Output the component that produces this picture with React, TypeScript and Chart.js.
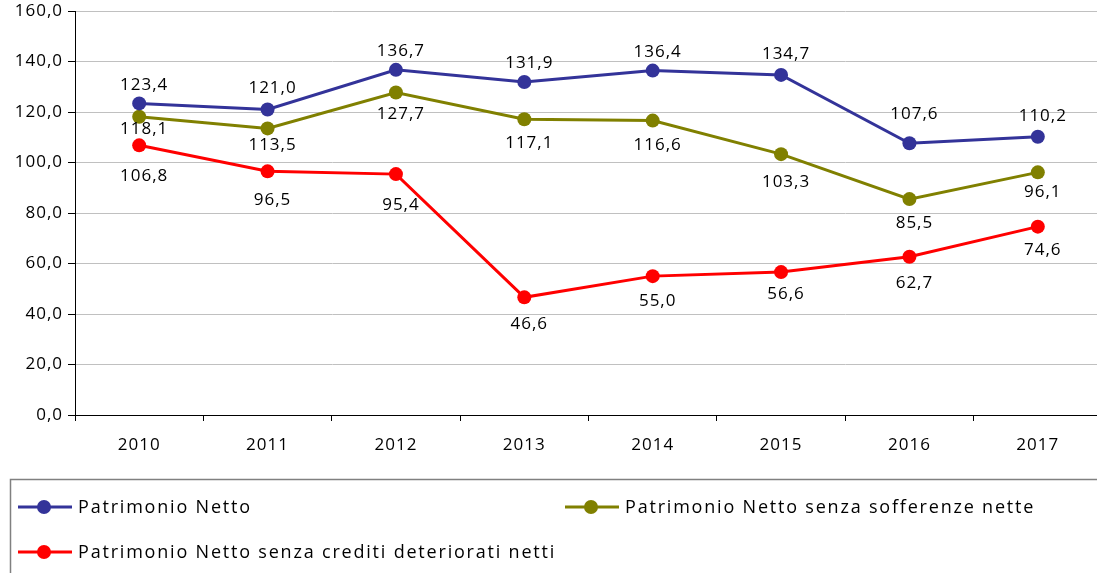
import React, { useEffect, useRef } from "react";
import { Chart, registerables } from "chart.js";

Chart.register(...registerables);

const years = ["2010", "2011", "2012", "2013", "2014", "2015", "2016", "2017"];
const patrimonioNetto = [123.4, 121.0, 136.7, 131.9, 136.4, 134.7, 107.6, 110.2];
const senzaSofferenze = [118.1, 113.5, 127.7, 117.1, 116.6, 103.3, 85.5, 96.1];
const senzaCrediti = [106.8, 96.5, 95.4, 46.6, 55.0, 56.6, 62.7, 74.6];
const seriesNames = [
  "Patrimonio Netto",
  "Patrimonio Netto senza sofferenze nette",
  "Patrimonio Netto senza crediti deteriorati netti",
];
const seriesColors = ["#333399", "#808000", "#FF0000"];

// label placement (vertical offset from the marker, px)
const labelDyBlue = [-18, -21, -19, -19, -18, -21, -29, -21];
const labelDyOlive = [12, 17, 22, 24, 25, 28, 24, 20];
const labelDyRed = [31, 29, 31, 27, 25, 22, 26, 24];
const LABEL_DX = 5;

const FONT = "'Open Sans', 'DejaVu Sans', sans-serif";
const fmt = (v: number) => v.toFixed(1).replace(".", ",");

const spacingPlugin = {
  id: "spacing",
  beforeLayout(chart: any) {
    chart.ctx.letterSpacing = "1px";
  },
  beforeDraw(chart: any) {
    chart.ctx.letterSpacing = "1px";
  },
};

const labelPlugin = {
  id: "valueLabels",
  afterDatasetsDraw(chart: any) {
    const ctx = chart.ctx;
    ctx.save();
    ctx.letterSpacing = "1px";
    ctx.font = `17px ${FONT}`;
    ctx.fillStyle = "#000";
    ctx.textAlign = "center";
    ctx.textBaseline = "middle";
    const dys = [labelDyBlue, labelDyOlive, labelDyRed];
    chart.data.datasets.forEach((ds: any, di: number) => {
      const meta = chart.getDatasetMeta(di);
      meta.data.forEach((pt: any, i: number) => {
        ctx.fillText(fmt(ds.data[i]), pt.x + LABEL_DX, pt.y + dys[di][i]);
      });
    });
    ctx.restore();
  },
};

const legendPlugin = {
  id: "boxLegend",
  afterDraw(chart: any) {
    const ctx = chart.ctx;
    ctx.save();
    ctx.strokeStyle = "#808080";
    ctx.lineWidth = 1.5;
    ctx.strokeRect(10.5, 479.5, 1200, 200);
    const items = [
      { x: 18, y: 507 },
      { x: 565, y: 507 },
      { x: 18, y: 552 },
    ];
    ctx.letterSpacing = "1.8px";
    ctx.font = `18px ${FONT}`;
    ctx.textBaseline = "middle";
    ctx.textAlign = "left";
    items.forEach((it, i) => {
      ctx.strokeStyle = seriesColors[i];
      ctx.lineWidth = 3;
      ctx.beginPath();
      ctx.moveTo(it.x, it.y);
      ctx.lineTo(it.x + 54, it.y);
      ctx.stroke();
      ctx.fillStyle = seriesColors[i];
      ctx.beginPath();
      ctx.arc(it.x + 26, it.y, 7, 0, Math.PI * 2);
      ctx.fill();
      ctx.fillStyle = "#000";
      ctx.fillText(seriesNames[i], it.x + 60, it.y + 1);
    });
    ctx.restore();
  },
};

export default function App() {
  const ref = useRef<HTMLCanvasElement | null>(null);
  useEffect(() => {
    if (!ref.current) return;
    const data = [patrimonioNetto, senzaSofferenze, senzaCrediti];
    const chart = new Chart(ref.current, {
      type: "line",
      data: {
        labels: years,
        datasets: data.map((d, i) => ({
          label: seriesNames[i],
          data: d,
          borderColor: seriesColors[i],
          backgroundColor: seriesColors[i],
          borderWidth: 3,
          pointRadius: 7,
          pointHoverRadius: 7,
          pointBackgroundColor: seriesColors[i],
          pointBorderWidth: 0,
          tension: 0,
          fill: false,
        })),
      },
      options: {
        animation: false,
        responsive: false,
        devicePixelRatio: 1,
        layout: { padding: { top: 11, right: 8, bottom: 108, left: 0 } },
        plugins: {
          legend: { display: false },
          tooltip: { enabled: false },
        },
        scales: {
          x: {
            offset: true,
            grid: {
              offset: true,
              drawOnChartArea: false,
              drawTicks: true,
              tickLength: 6,
              tickColor: "#000",
            },
            border: { color: "#000", width: 1 },
            ticks: {
              color: "#000",
              font: { family: FONT, size: 17 },
              padding: 14,
              maxRotation: 0,
            },
            afterFit: (s: any) => {
              s.height = 50;
              s.paddingLeft = 0;
              s.paddingRight = 0;
            },
          },
          y: {
            min: 0,
            max: 160,
            ticks: {
              stepSize: 20,
              color: "#000",
              font: { family: FONT, size: 17 },
              padding: 5,
              callback: (v: any) => fmt(Number(v)),
            },
            grid: {
              color: "#c0c0c0",
              lineWidth: 1,
              tickLength: 7,
              tickColor: "#000",
            },
            border: { color: "#000", width: 1 },
            afterFit: (s: any) => {
              s.width = 75;
              s.paddingTop = 0;
              s.paddingBottom = 0;
            },
          },
        },
      },
      plugins: [spacingPlugin, labelPlugin, legendPlugin],
    });
    return () => chart.destroy();
  }, []);
  return (
    <div style={{ position: "fixed", left: 0, top: 0, width: 1110, height: 573, background: "#fff" }}>
      <canvas ref={ref} width={1110} height={573} />
    </div>
  );
}
